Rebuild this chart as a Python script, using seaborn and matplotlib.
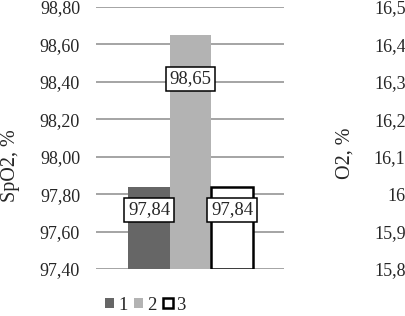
import matplotlib
matplotlib.use("Agg")
import matplotlib.pyplot as plt
import seaborn as sns
from matplotlib.patches import Patch

# data
groups = ["1", "2", "3"]
spo2 = [97.84, 98.65, 97.84]
spo2_ticks = [97.40, 97.60, 97.80, 98.00, 98.20, 98.40, 98.60, 98.80]
o2_ticks = [15.8, 15.9, 16.0, 16.1, 16.2, 16.3, 16.4, 16.5]
o2_labels = ["15,8", "15,9", "16", "16,1", "16,2", "16,3", "16,4", "16,5"]

colors = ["#666666", "#b3b3b3", "#ffffff"]
edges = ["#666666", "#b3b3b3", "#000000"]

sns.set_theme(style="white")
plt.rcParams["font.family"] = ["Liberation Serif", "DejaVu Serif"]
plt.rcParams["font.size"] = 13

W, H = 405, 316
fig = plt.figure(figsize=(W / 100, H / 100), dpi=100)
ax = fig.add_axes([96 / W, 1 - 269 / H, 188 / W, 262 / H])

sns.barplot(x=groups, y=spo2, hue=groups, palette=colors, width=1,
            legend=False, ax=ax, zorder=3)
ymin = spo2_ticks[0]
for p, ec in zip(ax.patches, edges):
    h = p.get_height()
    p.set_y(ymin)
    p.set_height(h - ymin)
    p.set_edgecolor(ec)
    p.set_linewidth(1.8 if ec == "#000000" else 0)

ax.set_ylim(spo2_ticks[0], spo2_ticks[-1])
ax.set_xlim(-1.27, 3.24)
ax.set_yticks(spo2_ticks)
ax.set_yticklabels([f"{t:.2f}".replace(".", ",") for t in spo2_ticks])
ax.tick_params(axis="y", length=0, pad=11.5, labelsize=13)
ax.set_xticks([])
ax.set_xlabel("")
ax.set_ylabel("")
for s in ax.spines.values():
    s.set_visible(False)
ax.grid(axis="y", color="#8c8c8c", linewidth=1.1, zorder=0)
ax.set_axisbelow(True)

# value labels in boxes
label_y = [97.715, 98.415, 97.715]
for i, v in enumerate(spo2):
    ax.text(i, label_y[i], f"{v:.2f}".replace(".", ","), ha="center", va="center",
            fontsize=13.5, zorder=5,
            bbox=dict(boxstyle="square,pad=0.2", facecolor="white",
                      edgecolor="black", linewidth=1.1))

fig.text(11 / W, 1 - 166 / H, "SpO2, %", rotation=90, ha="center", va="center", fontsize=14.5)

# right panel axis (cropped neighbour chart)
ax2 = fig.add_axes([407 / W, 1 - 269 / H, 0.2, 262 / H])
ax2.set_ylim(o2_ticks[0], o2_ticks[-1])
ax2.set_yticks(o2_ticks)
ax2.set_yticklabels(o2_labels)
ax2.tick_params(axis="y", length=0, pad=1, labelsize=13)
ax2.set_xticks([])
ax2.patch.set_visible(False)
for s in ax2.spines.values():
    s.set_visible(False)
fig.text(345 / W, 1 - 153 / H, "O2, %", rotation=90, ha="center", va="center", fontsize=14.5)

handles = [Patch(facecolor=c, edgecolor=e, linewidth=1.8 if e == "#000000" else 0)
           for c, e in zip(colors, edges)]
fig.legend(handles, groups, loc="center left", bbox_to_anchor=(105 / W, 1 - 305 / H),
           ncol=3, frameon=False, handlelength=0.5, handleheight=0.5,
           handletextpad=0.2, columnspacing=0.35, borderpad=0, borderaxespad=0,
           fontsize=13.5)

fig.savefig("out.png", dpi=100)
